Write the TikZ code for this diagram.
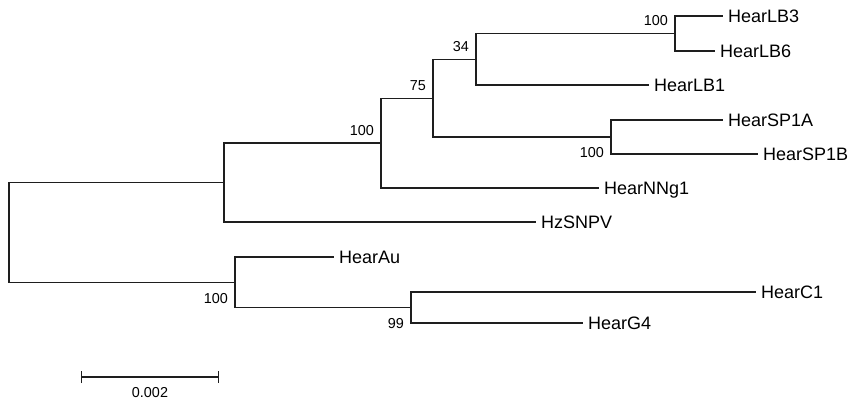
\documentclass[tikz,border=0pt]{standalone}
\usepackage{fontspec}
\setmainfont{Liberation Sans}
\usepackage{xcolor}
\usepackage{tikz}
\usetikzlibrary{arrows.meta, positioning, calc}
\definecolor{treeline}{RGB}{30, 30, 30}
\tikzstyle{branch} = [draw=treeline, line width=1.3pt, line cap=rect]
\tikzstyle{leaf} = [anchor=west, inner xsep=6pt, inner ysep=0pt, text height=13pt, text depth=0pt, font=\fontsize{18}{20}\selectfont]
\tikzstyle{bootup} = [anchor=south east, inner xsep=7pt, inner ysep=7.5pt, text height=10.4pt, text depth=0pt, font=\fontsize{14.4}{16}\selectfont]
\tikzstyle{bootdown} = [anchor=north east, inner xsep=7pt, inner ysep=10pt, text height=10.4pt, text depth=0pt, font=\fontsize{14.4}{16}\selectfont]
\tikzstyle{scalebar} = [{Bar[width=12pt]}-{Bar[width=12pt]}, line width=1.3pt, draw=treeline]

\begin{document}
\begin{tikzpicture}[x=1pt, y=-1pt]
    \useasboundingbox (0,0) rectangle (852,399);

    % Internal nodes
    \coordinate (root) at (9,232.5);
    \coordinate (nA) at (224,182.5);
    \coordinate (nB) at (381,143);
    \coordinate (nC) at (433,98.5);
    \coordinate (nD) at (476,59.5);
    \coordinate (nE) at (675,33.5);
    \coordinate (nF) at (611,137);
    \coordinate (nG) at (235,282.5);
    \coordinate (nH) at (411,307.5);

    % Taxa
    \node[leaf] (lb3) at (722,16) {HearLB3};
    \node[leaf] (lb6) at (714,51) {HearLB6};
    \node[leaf] (lb1) at (648,85) {HearLB1};
    \node[leaf] (sp1a) at (722,120) {HearSP1A};
    \node[leaf] (sp1b) at (757,154) {HearSP1B};
    \node[leaf] (nng1) at (598,188) {HearNNg1};
    \node[leaf] (hz) at (535,222) {HzSNPV};
    \node[leaf] (au) at (333,257) {HearAu};
    \node[leaf] (c1) at (755,292) {HearC1};
    \node[leaf] (g4) at (582,323) {HearG4};

    % Branches
    \draw[branch] (root) |- (nA);
    \draw[branch] (root) |- (nG);
    \draw[branch] (nA) |- (nB);
    \draw[branch] (nA) |- (hz.west);
    \draw[branch] (nB) |- (nC);
    \draw[branch] (nB) |- (nng1.west);
    \draw[branch] (nC) |- (nD);
    \draw[branch] (nC) |- (nF);
    \draw[branch] (nD) |- (nE);
    \draw[branch] (nD) |- (lb1.west);
    \draw[branch] (nE) |- (lb3.west);
    \draw[branch] (nE) |- (lb6.west);
    \draw[branch] (nF) |- (sp1a.west);
    \draw[branch] (nF) |- (sp1b.west);
    \draw[branch] (nG) |- (au.west);
    \draw[branch] (nG) |- (nH);
    \draw[branch] (nH) |- (c1.west);
    \draw[branch] (nH) |- (g4.west);

    % Bootstrap values
    \node[bootup] (bB) at (nB) {100};
    \node[bootup] (bC) at (nC) {75};
    \node[bootup] (bD) at (nD) {34};
    \node[bootup] (bE) at (nE) {100};
    \node[bootdown] (bF) at (nF) {100};
    \node[bootdown] (bG) at (nG) {100};
    \node[bootdown] (bH) at (nH) {99};

    % Scale bar
    \coordinate (sbl) at (81,377);
    \coordinate (sbr) at (219,377);
    \coordinate (sbm) at ($(sbl)!0.5!(sbr)$);
    \draw[scalebar] (sbl) -- (sbr);
    \node[font=\fontsize{14.4}{16}\selectfont, text height=10.4pt, text depth=0pt, inner sep=0pt, below=9.5pt of sbm] (sblabel) {0.002};
\end{tikzpicture}
\end{document}
